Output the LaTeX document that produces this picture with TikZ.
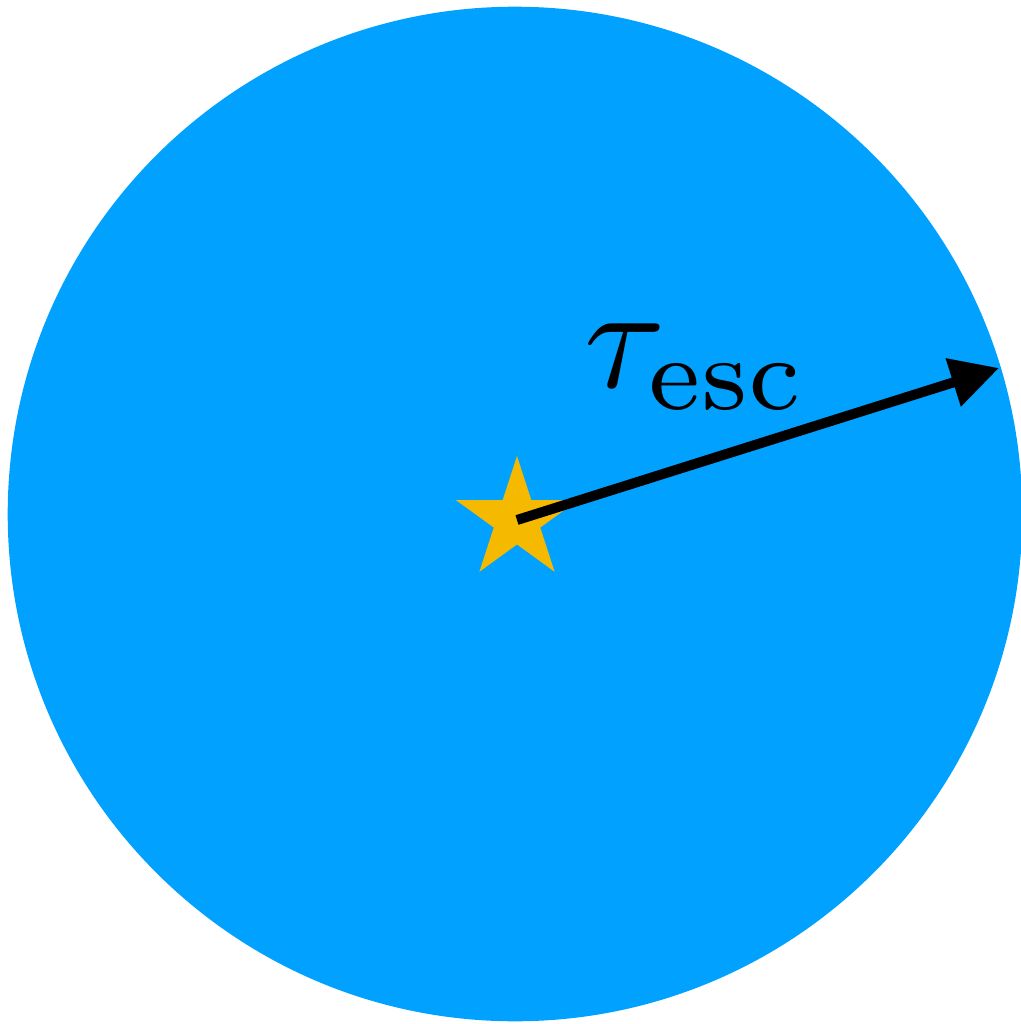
\documentclass[tikz,border=0pt]{standalone}
\usepackage{amsmath}
\usepackage{tikz}
\usetikzlibrary{arrows.meta, positioning, shapes.geometric}
\definecolor{cloudblue}{RGB}{0,161,255}
\definecolor{staryellow}{RGB}{245,186,0}

\begin{document}
\begin{tikzpicture}[x=0.01cm, y=-0.01cm]
  \tikzset{srcstar/.style={star, star points=5, star point ratio=2.618,
                           minimum size=1.28cm, inner sep=0pt,
                           fill=staryellow, draw=none}}
  \tikzset{escarrow/.style={line width=0.1cm,
                            -{Triangle[length=0.48cm, width=0.48cm]}}}
  \useasboundingbox (0,0) rectangle (1021,1024);

  % Cloud
  \fill[cloudblue] (515,514) circle (5.07cm);
  % Source
  \node[srcstar] (src) at (517,520) {};
  % Escape radius
  \coordinate (edge) at (999,368);
  \draw[escarrow] (src.center) -- (edge);
  \node[font=\normalsize, scale=4.2] (tau) at (696,367) {$\tau_{\text{esc}}$};
\end{tikzpicture}
\end{document}
